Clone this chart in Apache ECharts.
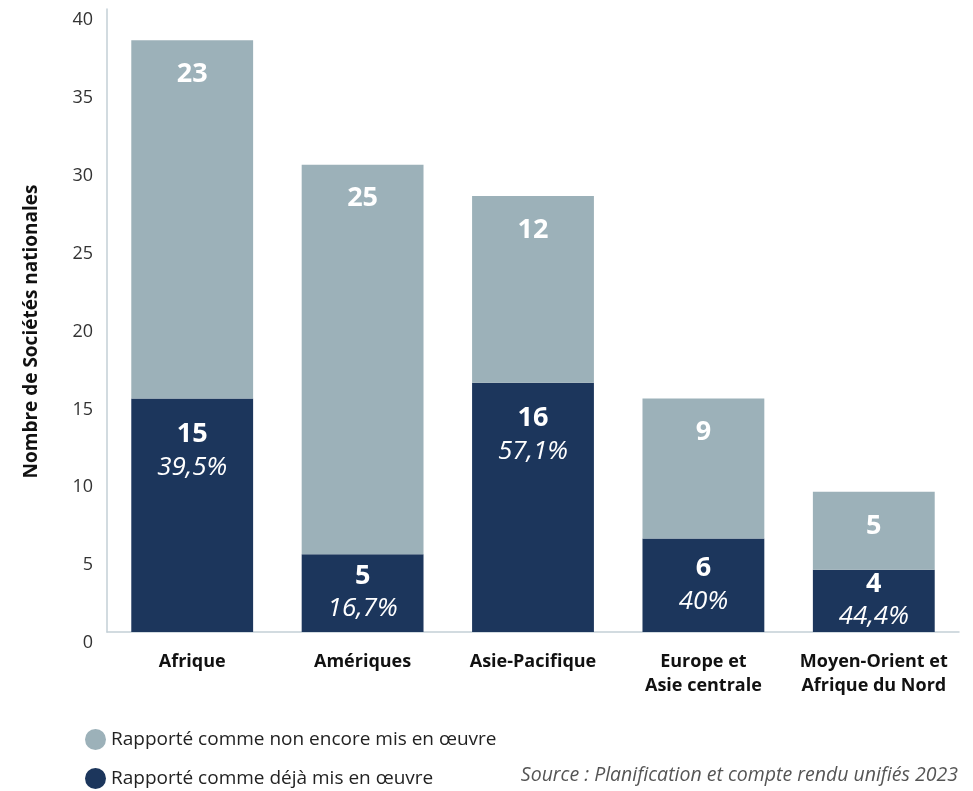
<!DOCTYPE html>
<html>
<head>
<meta charset="utf-8">
<script src="https://cdn.jsdelivr.net/npm/echarts@6/dist/echarts.min.js"></script>
<style>
html,body{margin:0;padding:0;background:#fff;}
#chart{width:973px;height:791px;}
</style>
</head>
<body>
<div id="chart"></div>
<script>
const categories = ['Afrique', 'Amériques', 'Asie-Pacifique', 'Europe et\nAsie centrale', 'Moyen-Orient et\nAfrique du Nord'];
const implemented = [15, 5, 16, 6, 4];
const notImplemented = [23, 25, 12, 9, 5];
const implementedPct = ['39,5%', '16,7%', '57,1%', '40%', '44,4%'];
const yTicks = [0, 5, 10, 15, 20, 25, 30, 35, 40];
const seriesNames = ['Rapporté comme déjà mis en œuvre', 'Rapporté comme non encore mis en œuvre'];

const DARK = '#1c365c';
const LIGHT = '#9cb1b9';
const FONT = '"Open Sans", "Noto Sans", sans-serif';

const chart = echarts.init(document.getElementById('chart'));

const darkData = implemented.map((v, i) => ({
  value: v,
  label: {
    position: v > 8 ? 'insideTop' : 'inside',
    distance: 20,
    formatter: '{n|' + v + '}\n{p|' + implementedPct[i] + '}'
  }
}));

const legendText = { fontFamily: FONT, fontSize: 19, color: '#222' };

chart.setOption({
  animation: false,
  textStyle: { fontFamily: FONT },
  grid: { left: 107, right: 14, top: 9, bottom: 159, containLabel: false },
  legend: [{
    left: 80,
    top: 724,
    icon: 'circle',
    itemWidth: 21,
    itemHeight: 21,
    itemGap: 0,
    data: [seriesNames[1]],
    textStyle: legendText
  }, {
    left: 80,
    top: 763,
    icon: 'circle',
    itemWidth: 21,
    itemHeight: 21,
    itemGap: 0,
    data: [seriesNames[0]],
    textStyle: legendText
  }],
  graphic: [{
    type: 'text',
    right: 15,
    top: 765,
    style: {
      text: 'Source : Planification et compte rendu unifiés 2023',
      font: 'italic 19.5px ' + FONT,
      fill: '#555'
    }
  }],
  xAxis: {
    type: 'category',
    data: categories,
    axisLine: { lineStyle: { color: '#c3cfd6', width: 1.5 } },
    axisTick: { show: false },
    axisLabel: {
      color: '#111',
      fontFamily: FONT,
      fontWeight: 'bold',
      fontSize: 18,
      lineHeight: 24,
      margin: 18,
      interval: 0
    }
  },
  yAxis: {
    type: 'value',
    min: yTicks[0],
    max: yTicks[yTicks.length - 1],
    interval: 5,
    name: 'Nombre de Sociétés nationales',
    nameLocation: 'middle',
    nameGap: 66,
    nameTextStyle: { fontFamily: FONT, fontWeight: 'bold', fontSize: 19, color: '#111', padding: [0, 22, 0, 0] },
    axisLine: { show: true, lineStyle: { color: '#c3cfd6', width: 1.5 } },
    axisTick: { show: false },
    splitLine: { show: false },
    axisLabel: {
      color: '#333',
      fontFamily: FONT,
      fontSize: 18,
      margin: 14,
      verticalAlign: 'top',
      padding: [2, 0, 0, 0]
    }
  },
  series: [
    {
      name: seriesNames[0],
      type: 'bar',
      stack: 'total',
      barWidth: '71.5%',
      itemStyle: { color: DARK },
      data: darkData,
      label: {
        show: true,
        color: '#fff',
        fontFamily: FONT,
        rich: {
          n: { fontSize: 27, fontWeight: 'bold', color: '#fff', lineHeight: 32, fontFamily: FONT },
          p: { fontSize: 26, fontStyle: 'italic', color: '#fff', lineHeight: 34, fontFamily: FONT }
        }
      }
    },
    {
      name: seriesNames[1],
      type: 'bar',
      stack: 'total',
      barWidth: '71.5%',
      itemStyle: { color: LIGHT },
      data: notImplemented,
      label: {
        show: true,
        position: 'insideTop',
        distance: 18,
        color: '#fff',
        fontFamily: FONT,
        fontSize: 27,
        fontWeight: 'bold',
        lineHeight: 32
      }
    }
  ]
});
</script>
</body>
</html>
